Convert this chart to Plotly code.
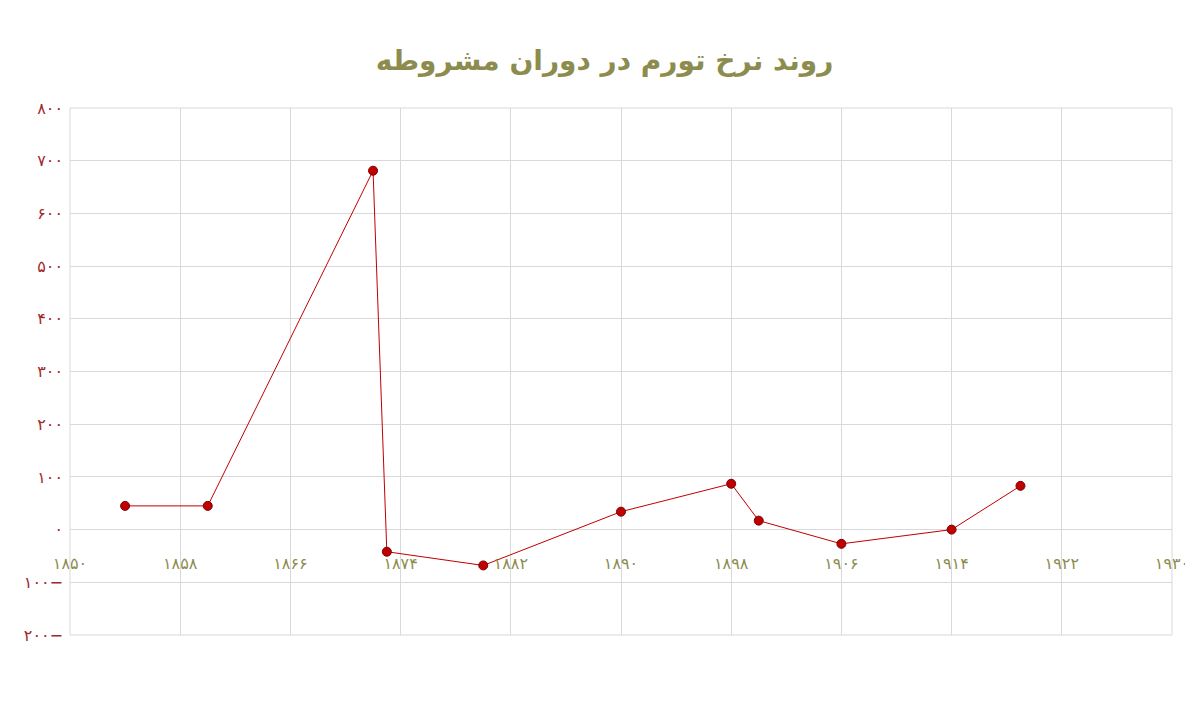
import plotly.graph_objects as go

years = [1854, 1860, 1872, 1873, 1880, 1890, 1898, 1900, 1906, 1914, 1919]
inflation = [45, 45, 681, -42, -68, 34, 87, 17, -27, 0, 83]

x_ticks = [1850, 1858, 1866, 1874, 1882, 1890, 1898, 1906, 1914, 1922, 1930]
y_ticks = [-200, -100, 0, 100, 200, 300, 400, 500, 600, 700, 800]
title = "روند نرخ تورم در دوران مشروطه"

fa = str.maketrans("0123456789", "۰۱۲۳۴۵۶۷۸۹")
def fa_num(v):
    s = str(abs(v)).translate(fa)
    return s + "−" if v < 0 else s

fig = go.Figure(go.Scatter(
    x=years, y=inflation, mode="lines+markers",
    line=dict(color="#c00000", width=1),
    marker=dict(size=9, color="#c00000", line=dict(color="#7a0000", width=1)),
))
fig.update_layout(
    width=1193, height=704, plot_bgcolor="white", paper_bgcolor="white",
    margin=dict(l=62, r=29, t=100, b=77), showlegend=False,
    title=dict(text=f"<b>{title}</b>", x=0.5, y=0.94, xanchor="center",
               font=dict(size=28, color="#8c8c4e", family="DejaVu Sans")),
    font=dict(family="DejaVu Sans"),
)
fig.update_xaxes(range=[1850, 1930], tickvals=x_ticks, ticktext=[fa_num(v) for v in x_ticks],
                 showgrid=True, gridcolor="#d9d9d9", zeroline=False, anchor="free", position=0.2,
                 showline=False, ticks="", tickfont=dict(size=16, color="#8c8c4e"),
                 ticklabelstandoff=22, automargin=False)
fig.update_yaxes(range=[-200, 800], tickvals=y_ticks, ticktext=[fa_num(v) for v in y_ticks],
                 showgrid=True, gridcolor="#d9d9d9", zeroline=False,
                 tickfont=dict(size=16, color="#a0282d"), ticks="", automargin=False,
                 ticklabelstandoff=6)
fig.add_shape(type="rect", xref="paper", yref="paper", x0=0, y0=0, x1=1, y1=1,
              line=dict(color="#d9d9d9", width=1))
fig.write_html("out.html")
